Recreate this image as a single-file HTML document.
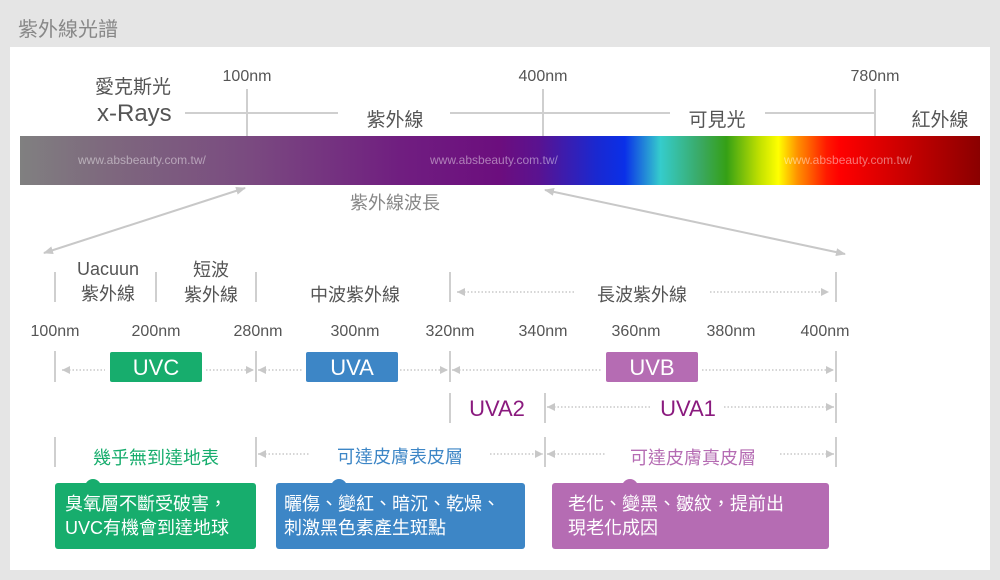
<!DOCTYPE html>
<html><head><meta charset="utf-8"><style>
html,body{margin:0;padding:0;background:#e5e5e5;}
svg{display:block;}
text{font-family:"Liberation Sans","Noto Sans CJK TC",sans-serif;}
</style></head><body>
<svg width="1000" height="580" viewBox="0 0 1000 580" xmlns="http://www.w3.org/2000/svg">
<defs>
<linearGradient id="sp" x1="20" x2="980" y1="0" y2="0" gradientUnits="userSpaceOnUse">
<stop offset="0" stop-color="#808080"/>
<stop offset="0.083" stop-color="#7e6a7e"/>
<stop offset="0.24" stop-color="#7a4a80"/>
<stop offset="0.396" stop-color="#701e80"/>
<stop offset="0.5" stop-color="#6c0e7e"/>
<stop offset="0.54" stop-color="#5a1290"/>
<stop offset="0.60" stop-color="#1a28d0"/>
<stop offset="0.63" stop-color="#0a30e8"/>
<stop offset="0.667" stop-color="#35cccc"/>
<stop offset="0.71" stop-color="#3aa860"/>
<stop offset="0.736" stop-color="#35a015"/>
<stop offset="0.77" stop-color="#c0e000"/>
<stop offset="0.79" stop-color="#ffff00"/>
<stop offset="0.81" stop-color="#ff9000"/>
<stop offset="0.84" stop-color="#ff1a00"/>
<stop offset="0.854" stop-color="#ff0000"/>
<stop offset="1" stop-color="#8a0000"/>
</linearGradient>
<marker id="ah" markerWidth="10" markerHeight="8" refX="9" refY="4" orient="auto-start-reverse" markerUnits="userSpaceOnUse"><path d="M0,0 L10,4 L0,8 Z" fill="#c8c8c8"/></marker>
<marker id="sa" markerWidth="8" markerHeight="8" refX="8" refY="4" orient="auto-start-reverse" markerUnits="userSpaceOnUse"><path d="M0,0 L8,4 L0,8 Z" fill="#c8c8c8"/></marker>
</defs>
<rect x="10" y="47" width="980" height="523" fill="#fff"/>
<text x="18" y="36" font-size="20" fill="#888">紫外線光譜</text>

<!-- top labels -->
<g fill="#555" font-size="16">
<text x="247" y="81" text-anchor="middle">100nm</text>
<text x="543" y="81" text-anchor="middle">400nm</text>
<text x="875" y="81" text-anchor="middle">780nm</text>
</g>
<text x="95" y="93" font-size="19" fill="#555">愛克斯光</text>
<text x="97" y="121" font-size="24" fill="#555">x-Rays</text>
<g fill="#555" font-size="19">
<text x="395" y="126" text-anchor="middle">紫外線</text>
<text x="717" y="126" text-anchor="middle">可見光</text>
<text x="940" y="126" text-anchor="middle">紅外線</text>
</g>
<g stroke="#cfcfcf" stroke-width="2">
<line x1="185" y1="113" x2="338" y2="113"/>
<line x1="450" y1="113" x2="670" y2="113"/>
<line x1="765" y1="113" x2="875" y2="113"/>
<line x1="247" y1="89" x2="247" y2="136"/>
<line x1="543" y1="89" x2="543" y2="136"/>
<line x1="875" y1="89" x2="875" y2="136"/>
</g>
<rect x="20" y="136" width="960" height="49" fill="url(#sp)"/>
<g fill="#fff" fill-opacity="0.45" font-size="12">
<text x="78" y="164">www.absbeauty.com.tw/</text>
<text x="430" y="164">www.absbeauty.com.tw/</text>
<text x="784" y="164">www.absbeauty.com.tw/</text>
</g>
<text x="395" y="209" font-size="18" fill="#888" text-anchor="middle">紫外線波長</text>
<line x1="44" y1="253" x2="245" y2="188" stroke="#c8c8c8" stroke-width="2" marker-start="url(#ah)" marker-end="url(#ah)"/>
<line x1="545" y1="190" x2="845" y2="254" stroke="#c8c8c8" stroke-width="2" marker-start="url(#ah)" marker-end="url(#ah)"/>

<!-- vertical ticks -->
<g stroke="#cfcfcf" stroke-width="2">
<line x1="55" y1="272" x2="55" y2="302"/><line x1="156" y1="272" x2="156" y2="302"/><line x1="256" y1="272" x2="256" y2="302"/><line x1="450" y1="272" x2="450" y2="302"/><line x1="836" y1="272" x2="836" y2="302"/>
<line x1="55" y1="351" x2="55" y2="382"/><line x1="256" y1="351" x2="256" y2="382"/><line x1="450" y1="351" x2="450" y2="382"/><line x1="836" y1="351" x2="836" y2="382"/>
<line x1="450" y1="393" x2="450" y2="423"/><line x1="545" y1="393" x2="545" y2="423"/><line x1="836" y1="393" x2="836" y2="423"/>
<line x1="55" y1="437" x2="55" y2="467"/><line x1="256" y1="437" x2="256" y2="467"/><line x1="545" y1="437" x2="545" y2="467"/><line x1="836" y1="437" x2="836" y2="467"/>
</g>
<!-- dotted arrows -->
<g stroke="#c8c8c8" stroke-width="1.5" stroke-dasharray="1.5,2">
<line x1="457" y1="292" x2="575" y2="292" marker-start="url(#sa)"/>
<line x1="710" y1="292" x2="829" y2="292" marker-end="url(#sa)"/>
<line x1="62" y1="370" x2="105" y2="370" marker-start="url(#sa)"/>
<line x1="206" y1="370" x2="254" y2="370" marker-end="url(#sa)"/>
<line x1="258" y1="370" x2="302" y2="370" marker-start="url(#sa)"/>
<line x1="400" y1="370" x2="448" y2="370" marker-end="url(#sa)"/>
<line x1="452" y1="370" x2="602" y2="370" marker-start="url(#sa)"/>
<line x1="702" y1="370" x2="834" y2="370" marker-end="url(#sa)"/>
<line x1="547" y1="407" x2="652" y2="407" marker-start="url(#sa)"/>
<line x1="724" y1="407" x2="834" y2="407" marker-end="url(#sa)"/>
<line x1="258" y1="454" x2="310" y2="454" marker-start="url(#sa)"/>
<line x1="490" y1="454" x2="543" y2="454" marker-end="url(#sa)"/>
<line x1="547" y1="454" x2="605" y2="454" marker-start="url(#sa)"/>
<line x1="780" y1="454" x2="834" y2="454" marker-end="url(#sa)"/>
</g>
<g fill="#555" font-size="18" text-anchor="middle">
<text x="108" y="275">Uacuun</text>
<text x="108" y="300">紫外線</text>
<text x="211" y="276">短波</text>
<text x="211" y="301">紫外線</text>
<text x="355" y="301">中波紫外線</text>
<text x="642" y="301">長波紫外線</text>
</g>
<g fill="#555" font-size="16" text-anchor="middle">
<text x="55" y="336">100nm</text><text x="156" y="336">200nm</text><text x="258" y="336">280nm</text><text x="355" y="336">300nm</text><text x="450" y="336">320nm</text><text x="543" y="336">340nm</text><text x="636" y="336">360nm</text><text x="731" y="336">380nm</text><text x="825" y="336">400nm</text>
</g>
<rect x="110" y="352" width="92" height="30" rx="2" fill="#17ad6d"/>
<rect x="306" y="352" width="92" height="30" rx="2" fill="#3d86c6"/>
<rect x="606" y="352" width="92" height="30" rx="2" fill="#b56cb3"/>
<g fill="#fff" font-size="22" text-anchor="middle">
<text x="156" y="375">UVC</text><text x="352" y="375">UVA</text><text x="652" y="375">UVB</text>
</g>
<g fill="#8a1a7e" font-size="22" text-anchor="middle">
<text x="497" y="416">UVA2</text><text x="688" y="416">UVA1</text>
</g>
<text x="156" y="464" font-size="18" fill="#17ad6d" text-anchor="middle">幾乎無到達地表</text>
<text x="400" y="463" font-size="18" fill="#3d86c6" text-anchor="middle">可達皮膚表皮層</text>
<text x="693" y="464" font-size="18" fill="#b56cb3" text-anchor="middle">可達皮膚真皮層</text>

<rect x="55" y="483" width="201" height="66" rx="3" fill="#17ad6d"/>
<circle cx="93" cy="487" r="8" fill="#17ad6d"/>
<rect x="276" y="483" width="249" height="66" rx="3" fill="#3d86c6"/>
<circle cx="339" cy="487" r="8" fill="#3d86c6"/>
<rect x="552" y="483" width="277" height="66" rx="3" fill="#b56cb3"/>
<circle cx="630" cy="487" r="8" fill="#b56cb3"/>
<g fill="#fff" font-size="18">
<text x="65" y="510">臭氧層不斷受破害，</text>
<text x="65" y="534">UVC有機會到達地球</text>
<text x="284" y="510">曬傷、變紅、暗沉、乾燥、</text>
<text x="284" y="534">刺激黑色素產生斑點</text>
<text x="568" y="510">老化、變黑、皺紋，提前出</text>
<text x="568" y="534">現老化成因</text>
</g>
</svg>
</body></html>
